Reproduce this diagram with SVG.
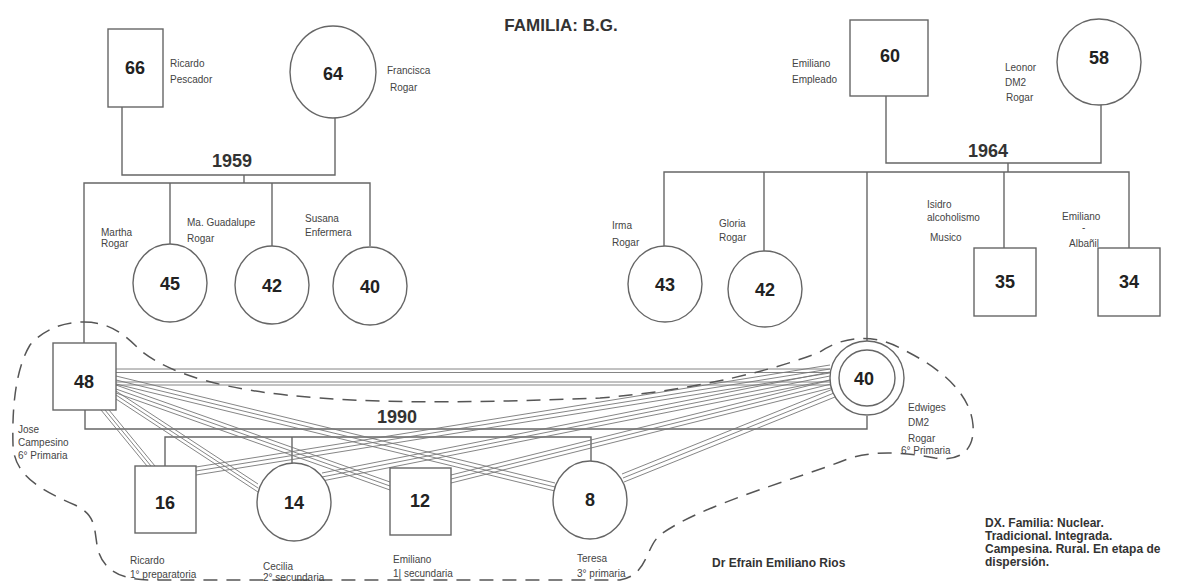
<svg xmlns="http://www.w3.org/2000/svg" width="1184" height="583" viewBox="0 0 1184 583">
<style>
.bg{fill:#fff}
.n{fill:#fff;stroke:#666;stroke-width:1.4}
.num{font-family:"Liberation Sans",Arial,sans-serif;font-weight:bold;font-size:18px;fill:#222;text-anchor:middle}
.yr{font-family:"Liberation Sans",Arial,sans-serif;font-weight:bold;font-size:18px;fill:#333;text-anchor:middle}
.lb{font-family:"Liberation Sans",Arial,sans-serif;font-size:10px;fill:#444}
.ft{font-family:"Liberation Sans",Arial,sans-serif;font-weight:bold;font-size:12px;fill:#333}
.ln{fill:none;stroke:#666;stroke-width:1.4}
.rel{fill:none;stroke:#777;stroke-width:0.9}
.dash{fill:none;stroke:#555;stroke-width:1.5;stroke-dasharray:14 9}
</style>
<rect class="bg" x="0" y="0" width="1184" height="583"/>
<text x="561" y="31" font-family="Liberation Sans, Arial, sans-serif" font-weight="bold" font-size="17" fill="#333" text-anchor="middle">FAMILIA: B.G.</text>

<g id="connectors">
  <!-- left marriage 1959 -->
  <polyline class="ln" points="122,107 122,175 335,175 335,118"/>
  <line class="ln" x1="244" y1="175" x2="244" y2="183"/>
  <polyline class="ln" points="84,343 84,183 370,183 370,246"/>
  <line class="ln" x1="170" y1="183" x2="170" y2="244"/>
  <line class="ln" x1="272" y1="183" x2="272" y2="246"/>
  <!-- right marriage 1964 -->
  <polyline class="ln" points="886,96 886,163 1101,163 1101,104"/>
  <line class="ln" x1="1008" y1="163" x2="1008" y2="172"/>
  <polyline class="ln" points="664,246 664,172 1129,172 1129,248"/>
  <line class="ln" x1="764" y1="172" x2="764" y2="251"/>
  <line class="ln" x1="867" y1="172" x2="867" y2="341"/>
  <line class="ln" x1="1004" y1="172" x2="1004" y2="248"/>
  <!-- 1990 marriage -->
  <polyline class="ln" points="85,410 85,429 867,429 867,416"/>
  <polyline class="ln" points="165,466 165,437 591,437 591,462"/>
  <line class="ln" x1="292" y1="437" x2="292" y2="464"/>
  <!-- relationship bundles from 48 -->
  <g class="rel">
    <line x1="116" y1="369" x2="830" y2="369"/>
    <line x1="116" y1="372.5" x2="830" y2="372.5"/>
    <line x1="116" y1="382" x2="830" y2="382"/>
    <line x1="116" y1="385" x2="830" y2="385"/>
    <line x1="101" y1="410" x2="147" y2="466"/>
    <line x1="105" y1="410" x2="151" y2="466"/>
    <line x1="109" y1="410" x2="155" y2="466"/>
    <line x1="116" y1="391" x2="258" y2="484"/>
    <line x1="116" y1="395" x2="258" y2="488"/>
    <line x1="116" y1="399" x2="258" y2="492"/>
    <line x1="116" y1="385" x2="390" y2="482"/>
    <line x1="116" y1="389" x2="390" y2="486"/>
    <line x1="116" y1="393" x2="390" y2="490"/>
    <line x1="116" y1="376" x2="555" y2="483"/>
    <line x1="116" y1="380" x2="555" y2="487"/>
    <line x1="116" y1="384" x2="555" y2="491"/>
  </g>
  <!-- relationship bundles from 40 -->
  <g class="rel">
    <line x1="830" y1="365" x2="196" y2="467"/>
    <line x1="830" y1="369" x2="196" y2="471"/>
    <line x1="830" y1="373" x2="196" y2="475"/>
    <line x1="830" y1="372" x2="322" y2="473"/>
    <line x1="830" y1="376" x2="322" y2="477"/>
    <line x1="830" y1="380" x2="322" y2="481"/>
    <line x1="831" y1="380" x2="451" y2="475"/>
    <line x1="831" y1="384" x2="451" y2="479"/>
    <line x1="831" y1="388" x2="451" y2="483"/>
    <line x1="833" y1="389" x2="622" y2="474"/>
    <line x1="834" y1="393" x2="623" y2="478"/>
    <line x1="835" y1="397" x2="624" y2="482"/>
  </g>
  <!-- household boundary -->
  <path class="dash" d="M84,322 C110,322 125,335 140,350 C170,375 230,392 320,398 C400,404 500,402 600,398 C700,390 780,368 820,352 C840,338 870,332 900,348 C935,365 970,390 973,425 C975,450 960,462 935,458 C905,452 870,450 845,460 C800,478 700,505 660,535 C645,548 648,575 620,580 L150,580 C115,580 100,565 97,545 C94,525 95,515 75,505 C40,490 14,475 13,445 C12,410 15,370 30,345 C45,328 65,322 84,322 Z"/>
</g>

<text class="yr" x="232" y="167">1959</text>
<text class="yr" x="988" y="157">1964</text>
<text class="yr" x="397" y="423">1990</text>

<g id="n66"><rect class="n" x="108" y="29" width="55" height="78"/><text class="num" x="135" y="74">66</text>
  <text class="lb" x="170" y="67">Ricardo</text><text class="lb" x="170" y="83">Pescador</text></g>
<g id="n64"><ellipse class="n" cx="333" cy="72" rx="43" ry="46"/><text class="num" x="333" y="80">64</text>
  <text class="lb" x="387" y="74">Francisca</text><text class="lb" x="390" y="91">Rogar</text></g>
<g id="n60"><rect class="n" x="850" y="20" width="78" height="76"/><text class="num" x="890" y="62">60</text>
  <text class="lb" x="792" y="67">Emiliano</text><text class="lb" x="792" y="83">Empleado</text></g>
<g id="n58"><ellipse class="n" cx="1099" cy="62" rx="42" ry="43"/><text class="num" x="1099" y="64">58</text>
  <text class="lb" x="1005" y="71">Leonor</text><text class="lb" x="1005" y="86">DM2</text><text class="lb" x="1006" y="101">Rogar</text></g>

<g id="n45"><ellipse class="n" cx="170" cy="283" rx="37" ry="39"/><text class="num" x="170" y="290">45</text>
  <text class="lb" x="101" y="236">Martha</text><text class="lb" x="101" y="247">Rogar</text></g>
<g id="n42a"><ellipse class="n" cx="272" cy="285" rx="37" ry="39"/><text class="num" x="272" y="292">42</text>
  <text class="lb" x="187" y="226">Ma. Guadalupe</text><text class="lb" x="187" y="242">Rogar</text></g>
<g id="n40a"><ellipse class="n" cx="370" cy="286" rx="37" ry="39"/><text class="num" x="370" y="293">40</text>
  <text class="lb" x="305" y="222">Susana</text><text class="lb" x="305" y="236">Enfermera</text></g>

<g id="n43"><ellipse class="n" cx="665" cy="284" rx="37" ry="38"/><text class="num" x="665" y="291">43</text>
  <text class="lb" x="612" y="229">Irma</text><text class="lb" x="612" y="246">Rogar</text></g>
<g id="n42b"><ellipse class="n" cx="765" cy="289" rx="37" ry="38"/><text class="num" x="765" y="296">42</text>
  <text class="lb" x="719" y="227">Gloria</text><text class="lb" x="719" y="241">Rogar</text></g>
<g id="n35"><rect class="n" x="974" y="248" width="62" height="68"/><text class="num" x="1005" y="288">35</text>
  <text class="lb" x="927" y="208">Isidro</text><text class="lb" x="927" y="221">alcoholismo</text><text class="lb" x="930" y="241">Musico</text></g>
<g id="n34"><rect class="n" x="1098" y="248" width="62" height="68"/><text class="num" x="1129" y="288">34</text>
  <text class="lb" x="1062" y="220">Emiliano</text><text class="lb" x="1082" y="231">-</text><text class="lb" x="1069" y="247">Albañil</text></g>

<g id="n48"><rect class="n" x="53" y="343" width="63" height="67"/><text class="num" x="84" y="388">48</text>
  <text class="lb" x="18" y="433">Jose</text><text class="lb" x="18" y="446">Campesino</text><text class="lb" x="18" y="459">6° Primaria</text></g>
<g id="n40"><circle class="n" cx="867" cy="378" r="37"/><circle class="n" cx="867" cy="378" r="28"/><text class="num" x="864" y="385">40</text>
  <text class="lb" x="908" y="411">Edwiges</text><text class="lb" x="908" y="426">DM2</text><text class="lb" x="908" y="442">Rogar</text><text class="lb" x="901" y="454">6° Primaria</text></g>

<g id="n16"><rect class="n" x="135" y="466" width="61" height="67"/><text class="num" x="165" y="509">16</text>
  <text class="lb" x="130" y="564">Ricardo</text><text class="lb" x="130" y="578">1° preparatoria</text></g>
<g id="n14"><ellipse class="n" cx="294" cy="502" rx="37" ry="39"/><text class="num" x="294" y="509">14</text>
  <text class="lb" x="263" y="570">Cecilia</text><text class="lb" x="263" y="581">2° secundaria</text></g>
<g id="n12"><rect class="n" x="390" y="468" width="61" height="67"/><text class="num" x="420" y="507">12</text>
  <text class="lb" x="393" y="563">Emiliano</text><text class="lb" x="393" y="577">1| secundaria</text></g>
<g id="n8"><ellipse class="n" cx="590" cy="500" rx="37" ry="39"/><text class="num" x="590" y="506">8</text>
  <text class="lb" x="577" y="562">Teresa</text><text class="lb" x="577" y="577">3° primaria</text></g>

<text class="ft" x="712" y="567">Dr Efrain Emiliano Rios</text>
<g class="ft">
  <text x="985" y="527">DX. Familia: Nuclear.</text>
  <text x="985" y="540">Tradicional. Integrada.</text>
  <text x="985" y="553">Campesina. Rural. En etapa de</text>
  <text x="985" y="566">dispersión.</text>
</g>
</svg>
